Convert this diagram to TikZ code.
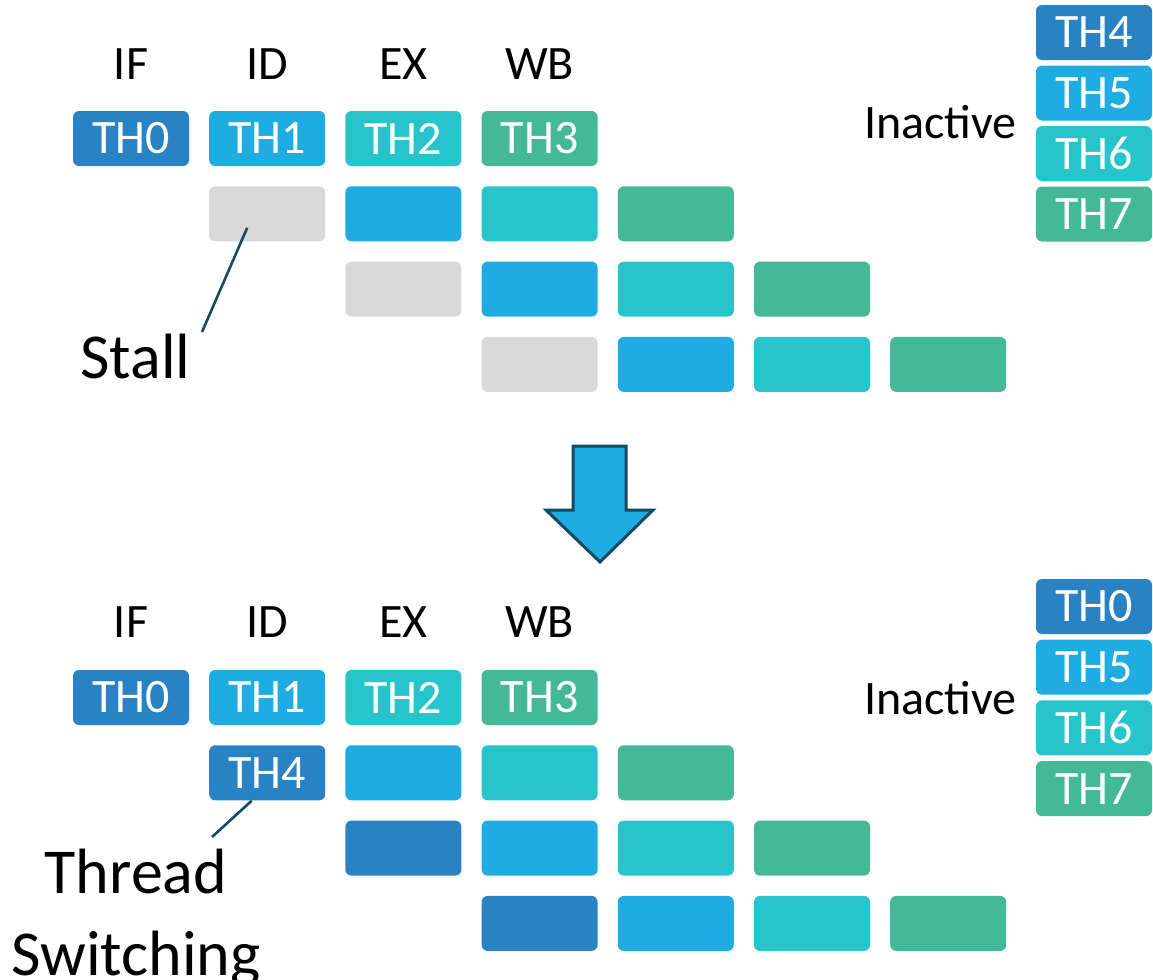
\documentclass[tikz,border=0pt]{standalone}
\usepackage{fontspec}
\setmainfont{Carlito}

\definecolor{thdark}{RGB}{41,130,196}
\definecolor{thlight}{RGB}{30,172,226}
\definecolor{thteal}{RGB}{40,196,203}
\definecolor{thgreen}{RGB}{68,185,150}
\definecolor{thgray}{RGB}{217,217,217}
\definecolor{linecol}{RGB}{22,74,98}

\begin{document}
\begin{tikzpicture}[
        x=0.5pt, y=-0.5pt,
        thbox/.style={rounded corners=3pt, minimum width=58pt,
                      minimum height=27.5pt, inner sep=0pt, text=white,
                      font=\fontsize{24}{28}\selectfont},
        stage/.style={anchor=base, inner sep=0pt, font=\fontsize{24}{28}\selectfont},
        big/.style={anchor=base, inner sep=0pt, font=\fontsize{32}{38}\selectfont},
        callout/.style={draw=linecol, line width=1.3pt},
    ]
    \useasboundingbox (0,0) rectangle (1153,980);

    % before: stall in the pipeline
    \foreach \n/\s in {0/IF, 1/ID, 2/EX, 3/WB}
        \node[stage] (ts\n) at ({131+136.2*\n}, 79) {\s};

    \node[thbox, fill=thdark]  (t00) at (131.0, 138.5) {TH0};
    \node[thbox, fill=thlight] (t01) at (267.2, 138.5) {TH1};
    \node[thbox, fill=thteal]  (t02) at (403.4, 138.5) {TH2};
    \node[thbox, fill=thgreen] (t03) at (539.6, 138.5) {TH3};

    \foreach \r in {1,2,3}
        \foreach \k/\c in {0/thgray, 1/thlight, 2/thteal, 3/thgreen}
            \node[thbox, fill=\c] (t\r\k) at ({131+136.2*(\r+\k)}, {138.5+75.3*\r}) {};

    \node[stage, anchor=base east] (tinact) at (1017, 138) {Inactive};
    \foreach \i/\c [count=\j from 0] in {4/thdark, 5/thlight, 6/thteal, 7/thgreen}
        \node[thbox, fill=\c] (ti\i) at (1094, {32.5+60.5*\j}) {TH\i};

    \node[big, anchor=base west] (stall) at (80, 378) {Stall};
    \coordinate (stallend) at (202, 332);
    \draw[callout] ([xshift=-10pt, yshift=-7pt]t10.center) -- (stallend);

    % block arrow
    \draw[fill=thlight, draw=linecol, line width=1.5pt]
        (573,446) -- (626,446) -- (626,510) -- (653,510) -- (600,562)
        -- (546,510) -- (573,510) -- cycle;

    % after: thread switching
    \foreach \n/\s in {0/IF, 1/ID, 2/EX, 3/WB}
        \node[stage] (bs\n) at ({131+136.2*\n}, 637) {\s};

    \node[thbox, fill=thdark]  (b00) at (131.0, 697.5) {TH0};
    \node[thbox, fill=thlight] (b01) at (267.2, 697.5) {TH1};
    \node[thbox, fill=thteal]  (b02) at (403.4, 697.5) {TH2};
    \node[thbox, fill=thgreen] (b03) at (539.6, 697.5) {TH3};

    \foreach \r/\lbl in {1/TH4, 2/, 3/}
        \foreach \k/\c in {0/thdark, 1/thlight, 2/thteal, 3/thgreen}
            \node[thbox, fill=\c] (b\r\k) at ({131+136.2*(\r+\k)}, {697.5+75.3*\r})
                {\ifnum\k=0 \lbl\fi};

    \node[stage, anchor=base east] (binact) at (1017, 714) {Inactive};
    \foreach \i/\c [count=\j from 0] in {0/thdark, 5/thlight, 6/thteal, 7/thgreen}
        \node[thbox, fill=\c] (bi\i) at (1094, {606.5+60.7*\j}) {TH\i};

    \node[big] (thread) at (136, 893) {Thread};
    \node[big] (switch) at (136, 975) {Switching};
    \coordinate (threadend) at (212, 837);
    \draw[callout] ([xshift=-7.75pt]b10.south) -- (threadend);

\end{tikzpicture}
\end{document}
